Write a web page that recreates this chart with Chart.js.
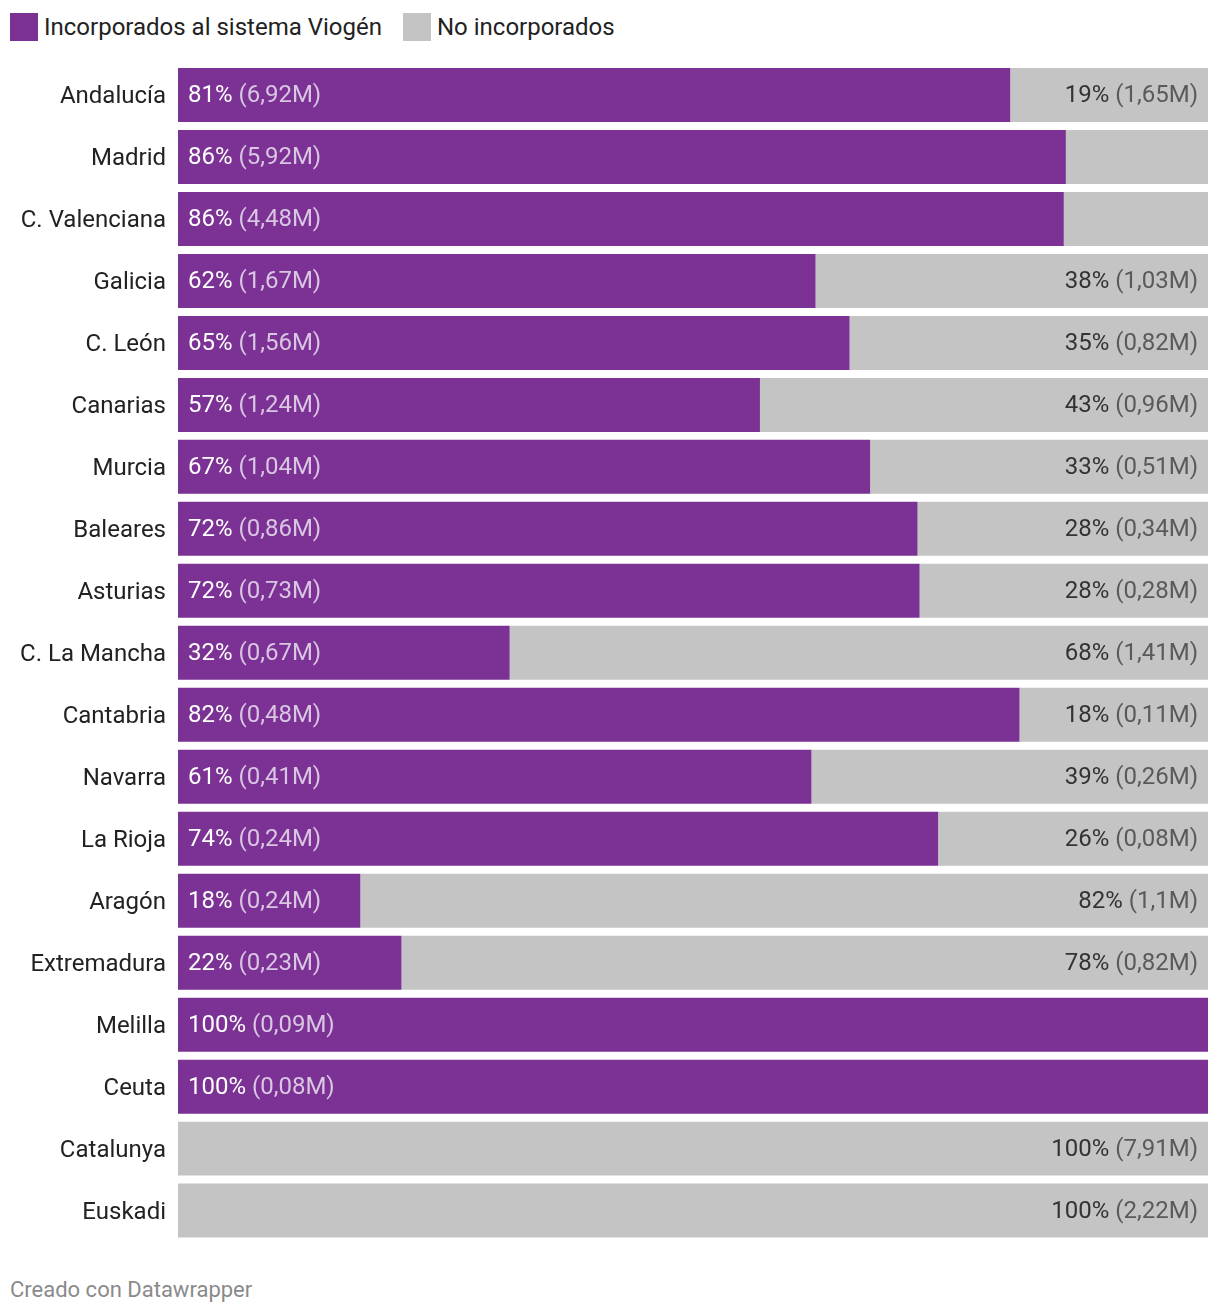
<!DOCTYPE html>
<html lang="es">
<head>
<meta charset="UTF-8">
<title>Incorporados al sistema Viogén</title>
<script src="https://cdn.jsdelivr.net/npm/chart.js"></script>
<style>
  body, html {
    margin: 0;
    padding: 0;
    background: #fff;
    font-family: Roboto, Arial, sans-serif;
  }
  .legend {
    position: absolute;
    top: 13px;
    left: 10px;
    display: flex;
    align-items: center;
    font-size: 24px;
    color: #222;
  }
  .legend .item {
    display: flex;
    align-items: center;
    margin-right: 21px;
  }
  .legend .box {
    width: 28px;
    height: 28px;
    margin-right: 6px;
  }
  .wrap {
    position: absolute;
    left: 0;
    top: 0;
    width: 1220px;
    height: 1268px;
  }
  .footer {
    position: absolute;
    left: 10px;
    top: 1277px;
    font-size: 22px;
    color: #8a8a8a;
  }
</style>
</head>
<body>

<div class="legend">
  <div class="item"><span class="box" style="background:#7b3294"></span>Incorporados al sistema Viogén</div>
  <div class="item"><span class="box" style="background:#c4c4c4"></span>No incorporados</div>
</div>
<div class="wrap"><canvas id="chart"></canvas></div>
<div class="footer">Creado con Datawrapper</div>

<script>
const regions = ['Andalucía', 'Madrid', 'C. Valenciana', 'Galicia', 'C. León', 'Canarias', 'Murcia',
  'Baleares', 'Asturias', 'C. La Mancha', 'Cantabria', 'Navarra', 'La Rioja', 'Aragón',
  'Extremadura', 'Melilla', 'Ceuta', 'Catalunya', 'Euskadi'];

// share (%)
const shareIn  = [80.8, 86.2, 86.0, 61.9, 65.2, 56.5, 67.2, 71.8, 72.0, 32.2, 81.7, 61.5, 73.8, 17.7, 21.7, 100, 100, 0, 0];
const shareOut = [19.2, 13.8, 14.0, 38.1, 34.8, 43.5, 32.8, 28.2, 28.0, 67.8, 18.3, 38.5, 26.2, 82.3, 78.3, 0, 0, 100, 100];

// label texts
const pctIn  = ['81%', '86%', '86%', '62%', '65%', '57%', '67%', '72%', '72%', '32%', '82%', '61%', '74%', '18%', '22%', '100%', '100%', null, null];
const millIn = ['6,92M', '5,92M', '4,48M', '1,67M', '1,56M', '1,24M', '1,04M', '0,86M', '0,73M', '0,67M', '0,48M', '0,41M', '0,24M', '0,24M', '0,23M', '0,09M', '0,08M', null, null];
const pctOut  = ['19%', null, null, '38%', '35%', '43%', '33%', '28%', '28%', '68%', '18%', '39%', '26%', '82%', '78%', null, null, '100%', '100%'];
const millOut = ['1,65M', null, null, '1,03M', '0,82M', '0,96M', '0,51M', '0,34M', '0,28M', '1,41M', '0,11M', '0,26M', '0,08M', '1,1M', '0,82M', null, null, '7,91M', '2,22M'];

const PURPLE = '#7b3294';
const GREY = '#c4c4c4';

// draws "xx% (y,yyM)" inside each segment
const barLabels = {
  id: 'barLabels',
  afterDatasetsDraw(chart) {
    const ctx = chart.ctx;
    ctx.save();
    ctx.font = '24px Roboto';
    ctx.textBaseline = 'middle';
    chart.data.datasets.forEach((ds, di) => {
      const meta = chart.getDatasetMeta(di);
      meta.data.forEach((bar, i) => {
        const pct = di === 0 ? pctIn[i] : pctOut[i];
        const mill = di === 0 ? millIn[i] : millOut[i];
        if (!pct) return;
        const first = pct + ' ';
        const second = '(' + mill + ')';
        const w1 = ctx.measureText(first).width;
        const w2 = ctx.measureText(second).width;
        const y = bar.y + 1;
        let x;
        if (di === 0) {
          x = Math.min(bar.base, bar.x) + 10;
        } else {
          x = Math.max(bar.base, bar.x) - 10 - w1 - w2;
        }
        ctx.textAlign = 'left';
        ctx.fillStyle = di === 0 ? '#ffffff' : '#333333';
        ctx.fillText(first, x, y);
        ctx.fillStyle = di === 0 ? '#d9c6e2' : '#5a5a5a';
        ctx.fillText(second, x + w1, y);
      });
    });
    ctx.restore();
  }
};

new Chart(document.getElementById('chart'), {
  type: 'bar',
  data: {
    labels: regions,
    datasets: [
      { label: 'Incorporados al sistema Viogén', data: shareIn, backgroundColor: PURPLE },
      { label: 'No incorporados', data: shareOut, backgroundColor: GREY }
    ]
  },
  options: {
    indexAxis: 'y',
    responsive: true,
    maintainAspectRatio: false,
    animation: false,
    layout: { padding: { top: 64, right: 12, bottom: 0, left: 0 } },
    datasets: { bar: { categoryPercentage: 1, barPercentage: 0.871 } },
    plugins: {
      legend: { display: false },
      tooltip: { enabled: false }
    },
    scales: {
      x: {
        stacked: true,
        min: 0,
        max: 100,
        display: false
      },
      y: {
        stacked: true,
        grid: { display: false, drawTicks: false },
        border: { display: false },
        ticks: {
          color: '#222',
          padding: 12,
          labelOffset: 2,
          font: { family: 'Roboto', size: 24 }
        },
        afterFit(scale) { scale.width = 178; }
      }
    }
  },
  plugins: [barLabels]
});
</script>
</body>
</html>
